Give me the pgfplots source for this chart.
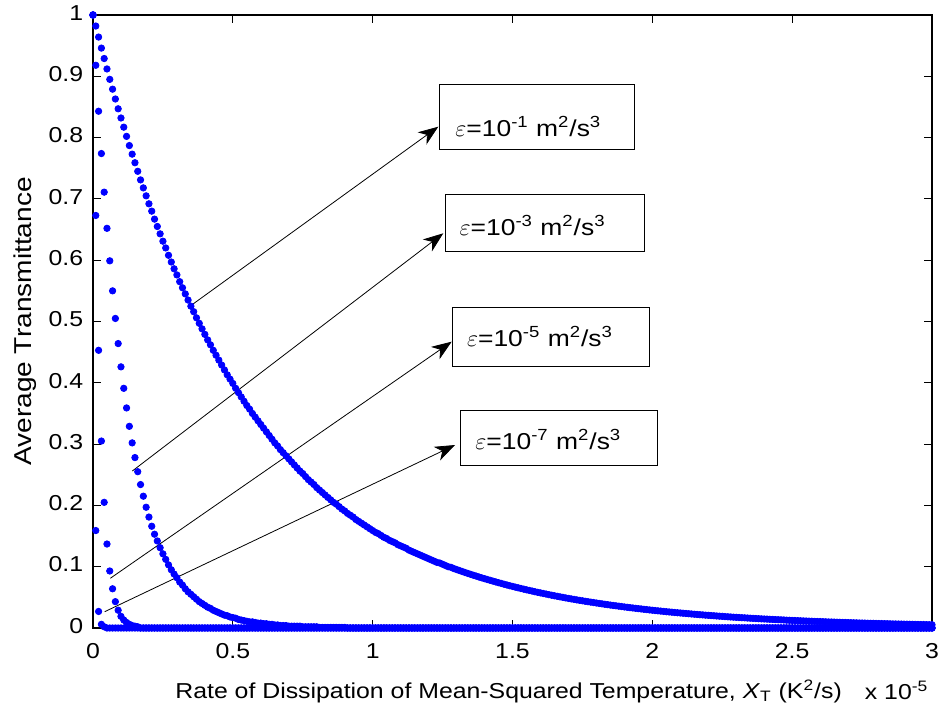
\documentclass[border=0pt]{standalone}
\usepackage{pgfplots}
\pgfplotsset{compat=1.18}
\usepackage{pgfplotstable}
\usepackage{fontspec}
\setmainfont{Liberation Sans}[FakeStretch=1.15]
\usetikzlibrary{arrows.meta}
\definecolor{mblue}{RGB}{0,0,255}

\pgfplotstableread{
x a b c d
0.00 1.000 1.000 1.000 1.000
0.01 0.982 0.918 0.673 0.159
0.02 0.964 0.843 0.453 0.027
0.03 0.946 0.774 0.305 0.006
0.04 0.929 0.711 0.205 0.002
0.05 0.912 0.652 0.137 0
0.06 0.895 0.599 0.093 0
0.07 0.879 0.550 0.064 0
0.08 0.863 0.505 0.043 0
0.09 0.847 0.464 0.029 0
0.10 0.832 0.426 0.019 0
0.11 0.817 0.391 0.013 0
0.12 0.802 0.359 0.009 0
0.13 0.787 0.329 0.006 0
0.14 0.773 0.302 0.004 0
0.15 0.759 0.278 0.003 0
0.16 0.745 0.255 0.002 0
0.17 0.731 0.234 0 0
0.18 0.718 0.215 0 0
0.19 0.705 0.197 0 0
0.20 0.692 0.181 0 0
0.21 0.680 0.166 0 0
0.22 0.667 0.153 0 0
0.23 0.655 0.142 0 0
0.24 0.643 0.131 0 0
0.25 0.631 0.121 0 0
0.26 0.620 0.112 0 0
0.27 0.608 0.103 0 0
0.28 0.597 0.095 0 0
0.29 0.586 0.088 0 0
0.30 0.576 0.082 0 0
0.31 0.565 0.075 0 0
0.32 0.555 0.070 0 0
0.33 0.545 0.064 0 0
0.34 0.535 0.059 0 0
0.35 0.525 0.055 0 0
0.36 0.516 0.051 0 0
0.37 0.506 0.047 0 0
0.38 0.497 0.043 0 0
0.39 0.488 0.040 0 0
0.40 0.479 0.037 0 0
0.41 0.470 0.034 0 0
0.42 0.462 0.032 0 0
0.43 0.453 0.029 0 0
0.44 0.445 0.027 0 0
0.45 0.437 0.025 0 0
0.46 0.429 0.023 0 0
0.47 0.421 0.021 0 0
0.48 0.413 0.020 0 0
0.49 0.406 0.018 0 0
0.50 0.399 0.017 0 0
0.51 0.391 0.016 0 0
0.52 0.384 0.014 0 0
0.53 0.377 0.013 0 0
0.54 0.370 0.012 0 0
0.55 0.363 0.011 0 0
0.56 0.357 0.010 0 0
0.57 0.350 0.010 0 0
0.58 0.344 0.009 0 0
0.59 0.338 0.008 0 0
0.60 0.332 0.008 0 0
0.61 0.326 0.007 0 0
0.62 0.320 0.007 0 0
0.63 0.314 0.006 0 0
0.64 0.308 0.006 0 0
0.65 0.302 0.005 0 0
0.66 0.297 0.005 0 0
0.67 0.291 0.004 0 0
0.68 0.286 0.004 0 0
0.69 0.281 0.004 0 0
0.70 0.276 0.003 0 0
0.71 0.271 0.003 0 0
0.72 0.266 0.003 0 0
0.73 0.261 0.003 0 0
0.74 0.256 0.003 0 0
0.75 0.252 0.002 0 0
0.76 0.247 0.002 0 0
0.77 0.242 0.002 0 0
0.78 0.238 0.002 0 0
0.79 0.234 0.002 0 0
0.80 0.229 0.002 0 0
0.81 0.225 0.001 0 0
0.82 0.221 0.001 0 0
0.83 0.217 0.001 0 0
0.84 0.213 0.001 0 0
0.85 0.209 0.001 0 0
0.86 0.205 0.001 0 0
0.87 0.202 0.001 0 0
0.88 0.198 0.001 0 0
0.89 0.194 0.001 0 0
0.90 0.191 0.001 0 0
0.91 0.187 0 0 0
0.92 0.184 0 0 0
0.93 0.181 0 0 0
0.94 0.177 0 0 0
0.95 0.174 0 0 0
0.96 0.171 0 0 0
0.97 0.168 0 0 0
0.98 0.165 0 0 0
0.99 0.162 0 0 0
1.00 0.159 0 0 0
1.01 0.156 0 0 0
1.02 0.154 0 0 0
1.03 0.151 0 0 0
1.04 0.148 0 0 0
1.05 0.146 0 0 0
1.06 0.143 0 0 0
1.07 0.141 0 0 0
1.08 0.139 0 0 0
1.09 0.136 0 0 0
1.10 0.134 0 0 0
1.11 0.132 0 0 0
1.12 0.130 0 0 0
1.13 0.127 0 0 0
1.14 0.125 0 0 0
1.15 0.123 0 0 0
1.16 0.121 0 0 0
1.17 0.119 0 0 0
1.18 0.117 0 0 0
1.19 0.115 0 0 0
1.20 0.113 0 0 0
1.21 0.111 0 0 0
1.22 0.109 0 0 0
1.23 0.107 0 0 0
1.24 0.106 0 0 0
1.25 0.104 0 0 0
1.26 0.102 0 0 0
1.27 0.100 0 0 0
1.28 0.099 0 0 0
1.29 0.097 0 0 0
1.30 0.0954 0 0 0
1.31 0.0938 0 0 0
1.32 0.0922 0 0 0
1.33 0.0906 0 0 0
1.34 0.0891 0 0 0
1.35 0.0876 0 0 0
1.36 0.0861 0 0 0
1.37 0.0847 0 0 0
1.38 0.0832 0 0 0
1.39 0.0818 0 0 0
1.40 0.0805 0 0 0
1.41 0.0791 0 0 0
1.42 0.0778 0 0 0
1.43 0.0765 0 0 0
1.44 0.0752 0 0 0
1.45 0.0739 0 0 0
1.46 0.0727 0 0 0
1.47 0.0714 0 0 0
1.48 0.0702 0 0 0
1.49 0.0690 0 0 0
1.50 0.0679 0 0 0
1.51 0.0667 0 0 0
1.52 0.0656 0 0 0
1.53 0.0645 0 0 0
1.54 0.0634 0 0 0
1.55 0.0623 0 0 0
1.56 0.0613 0 0 0
1.57 0.0603 0 0 0
1.58 0.0592 0 0 0
1.59 0.0582 0 0 0
1.60 0.0573 0 0 0
1.61 0.0563 0 0 0
1.62 0.0554 0 0 0
1.63 0.0544 0 0 0
1.64 0.0535 0 0 0
1.65 0.0526 0 0 0
1.66 0.0517 0 0 0
1.67 0.0508 0 0 0
1.68 0.0500 0 0 0
1.69 0.0491 0 0 0
1.70 0.0483 0 0 0
1.71 0.0475 0 0 0
1.72 0.0467 0 0 0
1.73 0.0459 0 0 0
1.74 0.0451 0 0 0
1.75 0.0444 0 0 0
1.76 0.0436 0 0 0
1.77 0.0429 0 0 0
1.78 0.0422 0 0 0
1.79 0.0415 0 0 0
1.80 0.0408 0 0 0
1.81 0.0401 0 0 0
1.82 0.0394 0 0 0
1.83 0.0387 0 0 0
1.84 0.0381 0 0 0
1.85 0.0374 0 0 0
1.86 0.0368 0 0 0
1.87 0.0362 0 0 0
1.88 0.0356 0 0 0
1.89 0.0350 0 0 0
1.90 0.0344 0 0 0
1.91 0.0338 0 0 0
1.92 0.0332 0 0 0
1.93 0.0327 0 0 0
1.94 0.0321 0 0 0
1.95 0.0316 0 0 0
1.96 0.0311 0 0 0
1.97 0.0305 0 0 0
1.98 0.0300 0 0 0
1.99 0.0295 0 0 0
2.00 0.0290 0 0 0
2.01 0.0285 0 0 0
2.02 0.0280 0 0 0
2.03 0.0276 0 0 0
2.04 0.0271 0 0 0
2.05 0.0266 0 0 0
2.06 0.0262 0 0 0
2.07 0.0258 0 0 0
2.08 0.0253 0 0 0
2.09 0.0249 0 0 0
2.10 0.0245 0 0 0
2.11 0.0241 0 0 0
2.12 0.0237 0 0 0
2.13 0.0233 0 0 0
2.14 0.0229 0 0 0
2.15 0.0225 0 0 0
2.16 0.0221 0 0 0
2.17 0.0217 0 0 0
2.18 0.0214 0 0 0
2.19 0.0210 0 0 0
2.20 0.0207 0 0 0
2.21 0.0203 0 0 0
2.22 0.0200 0 0 0
2.23 0.0196 0 0 0
2.24 0.0193 0 0 0
2.25 0.0190 0 0 0
2.26 0.0186 0 0 0
2.27 0.0183 0 0 0
2.28 0.0180 0 0 0
2.29 0.0177 0 0 0
2.30 0.0174 0 0 0
2.31 0.0171 0 0 0
2.32 0.0168 0 0 0
2.33 0.0166 0 0 0
2.34 0.0163 0 0 0
2.35 0.0160 0 0 0
2.36 0.0157 0 0 0
2.37 0.0155 0 0 0
2.38 0.0152 0 0 0
2.39 0.0149 0 0 0
2.40 0.0147 0 0 0
2.41 0.0145 0 0 0
2.42 0.0142 0 0 0
2.43 0.0140 0 0 0
2.44 0.0137 0 0 0
2.45 0.0135 0 0 0
2.46 0.0133 0 0 0
2.47 0.0131 0 0 0
2.48 0.0128 0 0 0
2.49 0.0126 0 0 0
2.50 0.0124 0 0 0
2.51 0.0122 0 0 0
2.52 0.0120 0 0 0
2.53 0.0118 0 0 0
2.54 0.0116 0 0 0
2.55 0.0114 0 0 0
2.56 0.0112 0 0 0
2.57 0.0110 0 0 0
2.58 0.0108 0 0 0
2.59 0.0106 0 0 0
2.60 0.0105 0 0 0
2.61 0.0103 0 0 0
2.62 0.0101 0 0 0
2.63 0.0099 0 0 0
2.64 0.0098 0 0 0
2.65 0.0096 0 0 0
2.66 0.0094 0 0 0
2.67 0.0093 0 0 0
2.68 0.0091 0 0 0
2.69 0.0090 0 0 0
2.70 0.0088 0 0 0
2.71 0.0087 0 0 0
2.72 0.0085 0 0 0
2.73 0.0084 0 0 0
2.74 0.0082 0 0 0
2.75 0.0081 0 0 0
2.76 0.0080 0 0 0
2.77 0.0078 0 0 0
2.78 0.0077 0 0 0
2.79 0.0076 0 0 0
2.80 0.0075 0 0 0
2.81 0.0073 0 0 0
2.82 0.0072 0 0 0
2.83 0.0071 0 0 0
2.84 0.0070 0 0 0
2.85 0.0068 0 0 0
2.86 0.0067 0 0 0
2.87 0.0066 0 0 0
2.88 0.0065 0 0 0
2.89 0.0064 0 0 0
2.90 0.0063 0 0 0
2.91 0.0062 0 0 0
2.92 0.0061 0 0 0
2.93 0.0060 0 0 0
2.94 0.0059 0 0 0
2.95 0.0058 0 0 0
2.96 0.0057 0 0 0
2.97 0.0056 0 0 0
2.98 0.0055 0 0 0
2.99 0.0054 0 0 0
3.00 0.0053 0 0 0
}\data

\begin{document}
\begin{tikzpicture}
\useasboundingbox (-46.5pt,-42.5pt) rectangle (424pt,314pt);
\begin{axis}[
  scale only axis, width=419.5pt, height=306.5pt,
  at={(0,0)}, anchor=south west,
  xmin=0, xmax=3, ymin=0, ymax=1,
  xtick={0,0.5,1,1.5,2,2.5,3},
  ytick={0,0.1,0.2,0.3,0.4,0.5,0.6,0.7,0.8,0.9,1},
  tick align=inside, major tick length=3.8pt,
  axis line style={line width=0.6pt},
  every tick/.style={black, line width=0.5pt},
  tick label style={font=\fontsize{10.8}{12}\selectfont},
  /pgf/number format/assume math mode=true,
  xticklabel style={anchor=base, yshift=-15.2pt},
  yticklabel style={anchor=mid east, xshift=-1.4pt},
  xlabel={Rate of Dissipation of Mean-Squared Temperature, \textit{X}\textsubscript{T} (K\textsuperscript{2}/s)},
  ylabel={Average Transmittance},
  xlabel style={font=\fontsize{10.8}{12}\selectfont, inner sep=0pt, at={(axis description cs:0.0977,-0.1147)}, anchor=base west},
  ylabel style={font=\fontsize{12.2}{14}\selectfont, at={(axis description cs:-0.0805,0.5)}, anchor=center},
  mark size=1.6pt,
]
\addplot[only marks, mark=*, color=mblue, mark options={draw=none, fill=mblue}] table[x=x, y=a] {\data};
\addplot[only marks, mark=*, color=mblue, mark options={draw=none, fill=mblue}] table[x=x, y=b] {\data};
\addplot[only marks, mark=*, color=mblue, mark options={draw=none, fill=mblue}] table[x=x, y=c] {\data};
\addplot[only marks, mark=*, color=mblue, mark options={draw=none, fill=mblue}] table[x=x, y=d] {\data};

% annotation boxes
\draw[black, line width=0.5pt] (axis cs:1.2382,0.7798) rectangle (axis cs:1.9355,0.8874);
\draw[black, line width=0.5pt] (axis cs:1.2597,0.6139) rectangle (axis cs:1.9713,0.7064);
\draw[black, line width=0.5pt] (axis cs:1.2872,0.4274) rectangle (axis cs:1.9916,0.5225);
\draw[black, line width=0.5pt] (axis cs:1.3158,0.2648) rectangle (axis cs:2.0202,0.3545);

\node[anchor=base west, inner sep=0pt, font=\fontsize{11.5}{13}\selectfont] at (axis cs:1.2944,0.8015) {$\varepsilon$=10\textsuperscript{-1} m\textsuperscript{2}/s\textsuperscript{3}};
\node[anchor=base west, inner sep=0pt, font=\fontsize{11.5}{13}\selectfont] at (axis cs:1.3097,0.6411) {$\varepsilon$=10\textsuperscript{-3} m\textsuperscript{2}/s\textsuperscript{3}};
\node[anchor=base west, inner sep=0pt, font=\fontsize{11.5}{13}\selectfont] at (axis cs:1.3362,0.4589) {$\varepsilon$=10\textsuperscript{-5} m\textsuperscript{2}/s\textsuperscript{3}};
\node[anchor=base west, inner sep=0pt, font=\fontsize{11.5}{13}\selectfont] at (axis cs:1.3659,0.2920) {$\varepsilon$=10\textsuperscript{-7} m\textsuperscript{2}/s\textsuperscript{3}};

% arrows
\draw[-{Stealth[length=10pt,width=7.5pt,inset=3pt]}, line width=0.4pt] (axis cs:0.353,0.527) -- (axis cs:1.2347,0.8178);
\draw[-{Stealth[length=10pt,width=7.5pt,inset=3pt]}, line width=0.4pt] (axis cs:0.1405,0.2561) -- (axis cs:1.2526,0.6439);
\draw[-{Stealth[length=10pt,width=7.5pt,inset=3pt]}, line width=0.4pt] (axis cs:0.0619,0.0811) -- (axis cs:1.2826,0.4671);
\draw[-{Stealth[length=10pt,width=7.5pt,inset=3pt]}, line width=0.4pt] (axis cs:0.0418,0.0266) -- (axis cs:1.2944,0.2985);
\end{axis}
\node[anchor=base west, inner sep=0pt, font=\fontsize{10.8}{12}\selectfont] at (385.75pt,-35.5pt) {x 10\textsuperscript{-5}};
\end{tikzpicture}
\end{document}
